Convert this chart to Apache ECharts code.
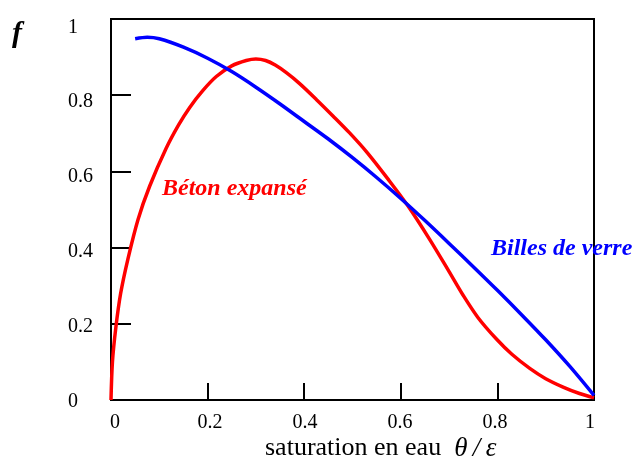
<!DOCTYPE html>
<html>
<head>
<meta charset="utf-8">
<script src="https://cdn.jsdelivr.net/npm/echarts@6/dist/echarts.min.js"></script>
<style>
html,body{margin:0;padding:0;background:#fff;}
#chart{width:633px;height:463px;}
</style>
</head>
<body>
<div id="chart"></div>
<script>
// Béton expansé (red)
const betonX = [0, 0.003, 0.01, 0.02, 0.035, 0.056, 0.08, 0.114, 0.14, 0.163, 0.19, 0.218, 0.25, 0.28, 0.3, 0.32, 0.34, 0.363, 0.39, 0.425, 0.46, 0.494, 0.53, 0.574, 0.615, 0.66, 0.7, 0.729, 0.76, 0.798, 0.83, 0.867, 0.9, 0.936, 0.97, 1.0];
const betonF = [0, 0.1, 0.19, 0.28, 0.37, 0.474, 0.561, 0.66, 0.722, 0.768, 0.812, 0.849, 0.877, 0.891, 0.895, 0.891, 0.879, 0.859, 0.831, 0.789, 0.745, 0.701, 0.65, 0.579, 0.509, 0.421, 0.337, 0.275, 0.216, 0.16, 0.12, 0.083, 0.056, 0.034, 0.017, 0.006];
// Billes de verre (blue)
const billesX = [0.05, 0.075, 0.1, 0.15, 0.2, 0.25, 0.3, 0.35, 0.4, 0.45, 0.5, 0.55, 0.6, 0.65, 0.7, 0.75, 0.8, 0.85, 0.9, 0.95, 1.0];
const billesF = [0.948, 0.952, 0.948, 0.926, 0.897, 0.862, 0.821, 0.777, 0.731, 0.685, 0.636, 0.584, 0.529, 0.471, 0.411, 0.35, 0.288, 0.224, 0.158, 0.088, 0.012];
// tick labels
const xTicks = [0, 0.2, 0.4, 0.6, 0.8, 1];
const yTicks = [0, 0.2, 0.4, 0.6, 0.8, 1];
const xName = 'saturation en eau';
const xNameSym = 'θ\u2009/\u2009ε';
const yName = 'f';
const betonName = 'Béton expansé';
const billesName = 'Billes de verre';

const serif = '"Liberation Serif", "Times New Roman", serif';
const chart = echarts.init(document.getElementById('chart'), null, {renderer: 'canvas'});

const fmt = v => String(Math.round(v * 10) / 10);

chart.setOption({
  animation: false,
  backgroundColor: '#fff',
  grid: [
    {left: 111, top: 19, width: 483, height: 381, show: true, borderColor: '#000', borderWidth: 2, backgroundColor: 'transparent'},
    {left: 115, top: 27.3, width: 475, height: 374.4, show: false}
  ],
  xAxis: [
    {type: 'value', gridIndex: 0, min: 0, max: 1, interval: 0.2,
     axisLine: {show: true, onZero: false, lineStyle: {color: '#000', width: 2}},
     axisTick: {show: true, inside: true, length: 17, lineStyle: {color: '#000', width: 2}},
     axisLabel: {show: false}, splitLine: {show: false}},
    {type: 'value', gridIndex: 1, min: 0, max: 1, interval: 0.2,
     axisLine: {show: false}, axisTick: {show: false}, splitLine: {show: false},
     axisLabel: {show: true, margin: 11, color: '#000', fontFamily: serif, fontSize: 20,
                 formatter: fmt, customValues: xTicks}}
  ],
  yAxis: [
    {type: 'value', gridIndex: 0, min: 0, max: 1, interval: 0.2,
     axisLine: {show: true, onZero: false, lineStyle: {color: '#000', width: 2}},
     axisTick: {show: true, inside: true, length: 20, lineStyle: {color: '#000', width: 2}},
     axisLabel: {show: false}, splitLine: {show: false}},
    {type: 'value', gridIndex: 1, min: 0, max: 1, interval: 0.2,
     axisLine: {show: false}, axisTick: {show: false}, splitLine: {show: false},
     axisLabel: {show: true, margin: 47, align: 'left', color: '#000', fontFamily: serif, fontSize: 20,
                 formatter: fmt, customValues: yTicks}}
  ],
  series: [
    {name: betonName, type: 'line', xAxisIndex: 0, yAxisIndex: 0, smooth: 0.3,
     symbol: 'none', lineStyle: {color: '#ff0000', width: 3.5},
     data: betonX.map((x, i) => [x, betonF[i]])},
    {name: billesName, type: 'line', xAxisIndex: 0, yAxisIndex: 0, smooth: 0.3,
     symbol: 'none', lineStyle: {color: '#0000ff', width: 3.5},
     data: billesX.map((x, i) => [x, billesF[i]])}
  ],
  graphic: [
    {type: 'text', left: 12, top: 19, style: {text: yName, font: 'italic bold 30px ' + serif, fill: '#000'}},
    {type: 'text', left: 162, top: 177, style: {text: betonName, font: 'italic bold 24px ' + serif, fill: '#ff0000'}},
    {type: 'text', left: 491, top: 237, style: {text: billesName, font: 'italic bold 24px ' + serif, fill: '#0000ff'}},
    {type: 'text', left: 265, top: 435, style: {
      text: xName + '  {s|' + xNameSym + '}',
      font: '26px ' + serif, fill: '#000',
      rich: {s: {fontFamily: serif, fontStyle: 'italic', fontSize: 27, fill: '#000'}}
    }}
  ]
});
</script>
</body>
</html>
